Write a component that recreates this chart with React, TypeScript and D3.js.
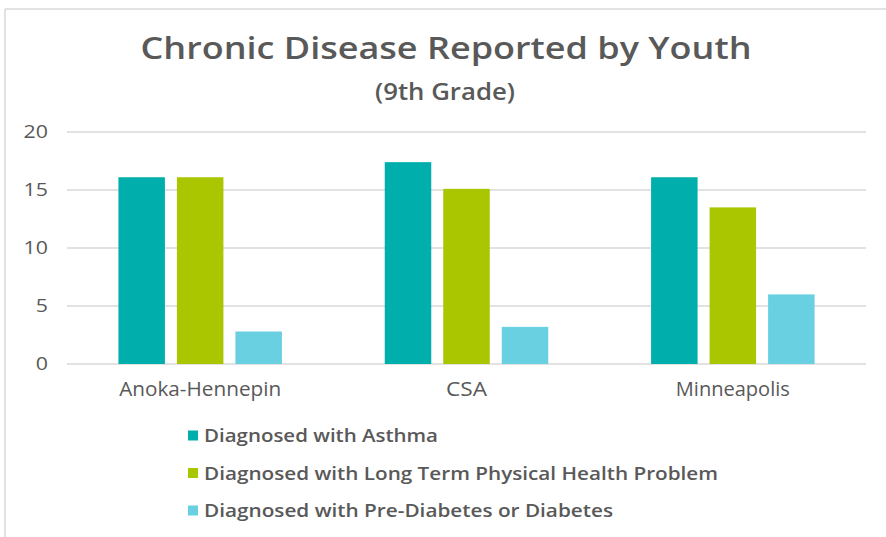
import * as d3 from 'd3';

const categories = ['Anoka-Hennepin', 'CSA', 'Minneapolis'];
const seriesNames = [
    'Diagnosed with Asthma',
    'Diagnosed with Long Term Physical Health Problem',
    'Diagnosed with Pre-Diabetes or Diabetes',
];
const asthma = [16.1, 17.4, 16.1];
const longTerm = [16.1, 15.1, 13.5];
const diabetes = [2.8, 3.2, 6.0];
const yTicks = [0, 5, 10, 15, 20];
const colors = ['#00AEAB', '#A9C600', '#69D0E2'];

const W = 886;
const H = 537;
const margin = { top: 132, right: 20, bottom: 173, left: 67 };
const textColor = '#595959';
const font = "'Open Sans', sans-serif";
// the original face is wider than Open Sans, so glyphs get stretched to its widths
const legendWidths = [234, 514, 409];
const categoryWidths = [162, 41, 114];

export default function App() {
    const series = [asthma, longTerm, diabetes];

    // scales
    const x = d3.scaleBand<string>()
        .domain(categories)
        .range([margin.left, W - margin.right])
        .padding(0);

    const y = d3.scaleLinear()
        .domain([0, 20])
        .range([H - margin.bottom, margin.top]);

    // bars inside each category
    const groupW = 163.5;
    const inner = d3.scaleBand<number>()
        .domain([0, 1, 2])
        .range([(x.bandwidth() - groupW) / 2, (x.bandwidth() + groupW) / 2])
        .paddingInner(0.205);

    const legendY = d3.scalePoint<number>()
        .domain([0, 1, 2])
        .range([435.5, 510.5]);

    return (
        <svg
            width={W}
            height={H}
            style={{ position: 'absolute', left: 0, top: 0, background: '#fff' }}
        >
            {/* chart border */}
            <line x1={5} x2={W} y1={9} y2={9} stroke="#d9d9d9" strokeWidth={1.5} />
            <line x1={5} x2={5} y1={9} y2={H} stroke="#d9d9d9" strokeWidth={1.5} />

            <text x={446} y={59} textAnchor="middle" fill={textColor}
                fontFamily={font} fontWeight={600} fontSize={30}
                textLength={611} lengthAdjust="spacingAndGlyphs">
                Chronic Disease Reported by Youth
            </text>
            <text x={445} y={100} textAnchor="middle" fill={textColor}
                fontFamily={font} fontWeight={600} fontSize={23}
                textLength={140} lengthAdjust="spacingAndGlyphs">
                (9th Grade)
            </text>

            {/* gridlines + y labels */}
            {yTicks.map(t => (
                <g key={t}>
                    <line x1={margin.left} x2={W - margin.right} y1={y(t)} y2={y(t)}
                        stroke="#d9d9d9" strokeWidth={1.5} />
                    <text transform={`translate(48,${y(t)}) scale(1.22,1)`} dy="0.35em"
                        textAnchor="end" fill={textColor}
                        fontFamily={font} fontSize={17.5}>
                        {t}
                    </text>
                </g>
            ))}

            {/* bars */}
            {categories.map((c, ci) => (
                <g key={c} transform={`translate(${x(c)},0)`}>
                    {series.map((s, si) => (
                        <rect key={si}
                            x={inner(si)}
                            y={y(s[ci])}
                            width={inner.bandwidth()}
                            height={y(0) - y(s[ci])}
                            fill={colors[si]} />
                    ))}
                    <text x={x.bandwidth() / 2} y={396} textAnchor="middle" fill={textColor}
                        fontFamily={font} fontSize={20}
                        textLength={categoryWidths[ci]} lengthAdjust="spacingAndGlyphs">
                        {c}
                    </text>
                </g>
            ))}

            {/* legend */}
            {seriesNames.map((name, i) => (
                <g key={name} transform={`translate(188,${legendY(i)})`}>
                    <rect x={0} y={-5} width={10} height={10} fill={colors[i]} />
                    <text x={16} y={0} dy="0.36em" fill={textColor}
                        fontFamily={font} fontWeight={600} fontSize={18.5}
                        textLength={legendWidths[i]} lengthAdjust="spacingAndGlyphs">
                        {name}
                    </text>
                </g>
            ))}
        </svg>
    );
}
